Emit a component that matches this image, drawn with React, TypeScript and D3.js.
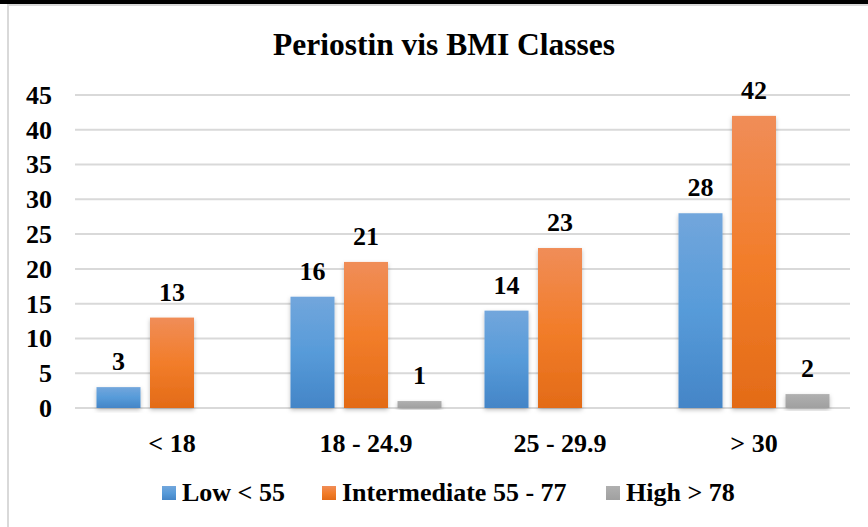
import React from "react";
import * as d3 from "d3";

const categories = ["< 18", "18 - 24.9", "25 - 29.9", "> 30"];
const seriesNames = ["Low < 55", "Intermediate 55 - 77", "High > 78"];
const lowValues = [3, 16, 14, 28];
const intermediateValues = [13, 21, 23, 42];
const highValues = [0, 1, 0, 2];
const yTicks = [0, 5, 10, 15, 20, 25, 30, 35, 40, 45];

const W = 868;
const H = 527;
const FONT = "'Liberation Serif', 'Times New Roman', serif";

export default function App() {
  const series = [lowValues, intermediateValues, highValues];
  const x = d3.scaleBand<string>().domain(categories).range([75, 851]).paddingInner(0).paddingOuter(0);
  const y = d3.scaleLinear().domain([0, 45]).range([408, 95]);
  const barW = 44;
  const barGap = 9.5;
  const groupW = barW * 3 + barGap * 2;
  const grads = [
    ["#72a6dc", "#579bd9", "#4485c7"],
    ["#f08d58", "#f27d2a", "#e36b17"],
    ["#b0b0b0", "#a8a8a8", "#a0a0a0"],
  ];
  const legendX = [162, 322, 606];
  return (
    <svg width={W} height={H} style={{ position: "absolute", left: 0, top: 0, background: "#fff" }}>
      <defs>
        {grads.map((g, i) => (
          <linearGradient key={i} id={`g${i}`} x1="0" y1="0" x2="0" y2="1">
            <stop offset="0" stopColor={g[0]} />
            <stop offset="0.5" stopColor={g[1]} />
            <stop offset="1" stopColor={g[2]} />
          </linearGradient>
        ))}
        <filter id="sh" x="-20%" y="-20%" width="140%" height="140%">
          <feDropShadow dx="0" dy="2" stdDeviation="2" floodColor="#000" floodOpacity="0.25" />
        </filter>
      </defs>
      <rect x={0} y={0} width={W} height={4} fill="#000" />
      <rect x={7} y={4} width={W - 7} height={2} fill="#d9d9d9" />
      <rect x={7} y={4} width={2} height={H - 4} fill="#d9d9d9" />
      <text x={444} y={55} textAnchor="middle" fontFamily={FONT} fontWeight="bold" fontSize={31.5}>
        Periostin vis BMI Classes
      </text>
      {yTicks.map((t) => (
        <g key={t}>
          <line x1={75} x2={850} y1={y(t)} y2={y(t)} stroke="#d9d9d9" strokeWidth={2} />
          <text x={52} y={y(t)} dy="0.34em" textAnchor="end" fontFamily={FONT} fontWeight="bold" fontSize={26}>
            {t}
          </text>
        </g>
      ))}
      {categories.map((c, ci) => {
        const x0 = (x(c) as number) + (x.bandwidth() - groupW) / 2;
        return (
          <g key={c}>
            {series.map((s, si) => {
              const v = s[ci];
              const bx = x0 + si * (barW + barGap);
              if (v === 0) return null;
              return (
                <g key={si}>
                  <rect x={bx} y={y(v)} width={barW} height={y(0) - y(v)} fill={`url(#g${si})`} filter="url(#sh)" />
                  <text x={bx + barW / 2} y={y(v) - 17} textAnchor="middle" fontFamily={FONT} fontWeight="bold" fontSize={26}>
                    {v}
                  </text>
                </g>
              );
            })}
            <text x={(x(c) as number) + x.bandwidth() / 2} y={452} textAnchor="middle" fontFamily={FONT} fontWeight="bold" fontSize={26}>
              {c}
            </text>
          </g>
        );
      })}
      {seriesNames.map((n, i) => (
        <g key={n}>
          <rect x={legendX[i]} y={486} width={14} height={14} fill={`url(#g${i})`} />
          <text x={legendX[i] + 20} y={501} fontFamily={FONT} fontWeight="bold" fontSize={26}>
            {n}
          </text>
        </g>
      ))}
    </svg>
  );
}
